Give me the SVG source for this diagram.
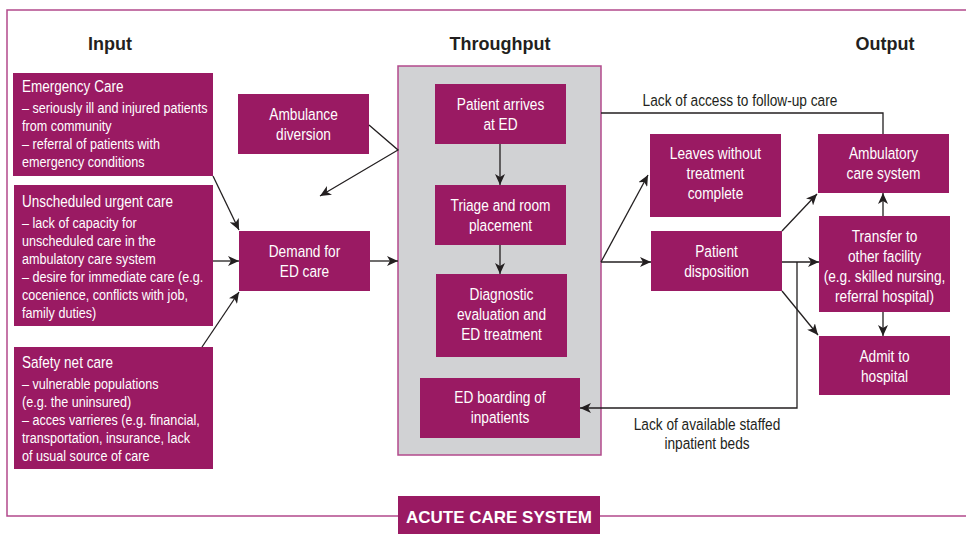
<svg xmlns="http://www.w3.org/2000/svg" width="966" height="534" viewBox="0 0 966 534">
<style>
.box{fill:#9a1a63}
.t{font-family:"Liberation Sans",Arial,sans-serif;fill:#fff;font-size:16.5px}
.c{text-anchor:middle}
.sub{font-size:15px}
.h{font-family:"Liberation Sans",Arial,sans-serif;font-weight:bold;font-size:18px;fill:#231f20;text-anchor:middle}
.lbl{font-family:"Liberation Sans",Arial,sans-serif;font-size:16.5px;fill:#231f20;text-anchor:middle}
.ln{fill:none;stroke:#231f20;stroke-width:1.3}
.ar{marker-end:url(#ah)}
</style>
<defs>
<marker id="ah" markerUnits="userSpaceOnUse" markerWidth="12" markerHeight="10" refX="11" refY="5" orient="auto">
<path d="M0,0 L11,5 L0,10 L3,5 z" fill="#231f20"/>
</marker>
</defs>
<rect width="966" height="534" fill="#fff"/>
<g id="frame">
<path d="M966,10 H7 V516 H966" fill="none" stroke="#b24a8c" stroke-width="1.5"/>
</g>
<g id="headers">
<text class="h" x="110" y="50">Input</text>
<text class="h" x="500" y="50">Throughput</text>
<text class="h" x="885" y="50">Output</text>
</g>
<g id="acute-care-system">
<rect x="398" y="496" width="202" height="38" class="box"/>
<text x="499" y="523" font-family="Liberation Sans,Arial,sans-serif" font-weight="bold" font-size="17" fill="#fff" text-anchor="middle">ACUTE CARE SYSTEM</text>
</g>
<g id="throughput-area">
<rect x="398" y="66" width="203" height="389" fill="#d1d2d4" stroke="#b24a8c" stroke-width="1.5"/>
</g>
<g id="emergency-care">
<rect x="13" y="73" width="200" height="103" class="box"/>
<text class="t" transform="translate(22,92) scale(0.82,1)">Emergency Care</text>
<text class="t sub" transform="translate(22,113) scale(0.84,1)">– seriously ill and injured patients</text>
<text class="t sub" transform="translate(22,131) scale(0.84,1)">from community</text>
<text class="t sub" transform="translate(22,149) scale(0.84,1)">– referral of patients with</text>
<text class="t sub" transform="translate(22,167) scale(0.84,1)">emergency conditions</text>
</g>
<g id="unscheduled-care">
<rect x="14" y="185" width="199" height="141" class="box"/>
<text class="t" transform="translate(22,207) scale(0.82,1)">Unscheduled urgent care</text>
<text class="t sub" transform="translate(22,228) scale(0.84,1)">– lack of capacity for</text>
<text class="t sub" transform="translate(22,246) scale(0.84,1)">unscheduled care in the</text>
<text class="t sub" transform="translate(22,264) scale(0.84,1)">ambulatory care system</text>
<text class="t sub" transform="translate(22,282) scale(0.84,1)">– desire for immediate care (e.g.</text>
<text class="t sub" transform="translate(22,300) scale(0.84,1)">cocenience, conflicts with job,</text>
<text class="t sub" transform="translate(22,318) scale(0.84,1)">family duties)</text>
</g>
<g id="safety-net">
<rect x="14" y="347" width="199" height="122" class="box"/>
<text class="t" transform="translate(22,368) scale(0.82,1)">Safety net care</text>
<text class="t sub" transform="translate(22,389) scale(0.84,1)">– vulnerable populations</text>
<text class="t sub" transform="translate(22,407) scale(0.84,1)">(e.g. the uninsured)</text>
<text class="t sub" transform="translate(22,425) scale(0.84,1)">– acces varrieres (e.g. financial,</text>
<text class="t sub" transform="translate(22,443) scale(0.84,1)">transportation, insurance, lack</text>
<text class="t sub" transform="translate(22,461) scale(0.84,1)">of usual source of care</text>
</g>
<g id="ambulance-diversion">
<rect x="238" y="94" width="131" height="60" class="box"/>
<text class="t c" transform="translate(303.5,120) scale(0.83,1)">Ambulance</text>
<text class="t c" transform="translate(303.5,140) scale(0.83,1)">diversion</text>
</g>
<g id="demand">
<rect x="239" y="231" width="131" height="60" class="box"/>
<text class="t c" transform="translate(304.5,257) scale(0.83,1)">Demand for</text>
<text class="t c" transform="translate(304.5,277) scale(0.83,1)">ED care</text>
</g>
<g id="patient-arrives">
<rect x="435" y="84" width="131" height="60" class="box"/>
<text class="t c" transform="translate(500.5,110) scale(0.83,1)">Patient arrives</text>
<text class="t c" transform="translate(500.5,130) scale(0.83,1)">at ED</text>
</g>
<g id="triage">
<rect x="435" y="185" width="131" height="60" class="box"/>
<text class="t c" transform="translate(500.5,211) scale(0.83,1)">Triage and room</text>
<text class="t c" transform="translate(500.5,231) scale(0.83,1)">placement</text>
</g>
<g id="diagnostic">
<rect x="436" y="274" width="131" height="83" class="box"/>
<text class="t c" transform="translate(501.5,300) scale(0.83,1)">Diagnostic</text>
<text class="t c" transform="translate(501.5,320) scale(0.83,1)">evaluation and</text>
<text class="t c" transform="translate(501.5,340) scale(0.83,1)">ED treatment</text>
</g>
<g id="ed-boarding">
<rect x="420" y="378" width="160" height="60" class="box"/>
<text class="t c" transform="translate(500,403) scale(0.83,1)">ED boarding of</text>
<text class="t c" transform="translate(500,423) scale(0.83,1)">inpatients</text>
</g>
<g id="leaves-without">
<rect x="650" y="134" width="131" height="83" class="box"/>
<text class="t c" transform="translate(715.5,159) scale(0.83,1)">Leaves without</text>
<text class="t c" transform="translate(715.5,179) scale(0.83,1)">treatment</text>
<text class="t c" transform="translate(715.5,199) scale(0.83,1)">complete</text>
</g>
<g id="patient-disposition">
<rect x="651" y="231" width="131" height="60" class="box"/>
<text class="t c" transform="translate(716.5,257) scale(0.83,1)">Patient</text>
<text class="t c" transform="translate(716.5,277) scale(0.83,1)">disposition</text>
</g>
<g id="ambulatory">
<rect x="818" y="134" width="131" height="59" class="box"/>
<text class="t c" transform="translate(883.5,159) scale(0.83,1)">Ambulatory</text>
<text class="t c" transform="translate(883.5,179) scale(0.83,1)">care system</text>
</g>
<g id="transfer">
<rect x="819" y="216" width="131" height="96" class="box"/>
<text class="t c" transform="translate(884.5,242) scale(0.83,1)">Transfer to</text>
<text class="t c" transform="translate(884.5,262) scale(0.83,1)">other facility</text>
<text class="t c" transform="translate(884.5,282) scale(0.83,1)">(e.g. skilled nursing,</text>
<text class="t c" transform="translate(884.5,302) scale(0.83,1)">referral hospital)</text>
</g>
<g id="admit">
<rect x="819" y="336" width="131" height="59" class="box"/>
<text class="t c" transform="translate(884.5,362) scale(0.83,1)">Admit to</text>
<text class="t c" transform="translate(884.5,382) scale(0.83,1)">hospital</text>
</g>
<g id="connectors">
<line class="ln ar" x1="213" y1="176" x2="239" y2="230"/>
<line class="ln ar" x1="213" y1="261" x2="239" y2="261"/>
<line class="ln ar" x1="202" y1="347" x2="239" y2="292"/>
<polyline class="ln ar" points="369,125 398,150 320,196"/>
<line class="ln ar" x1="370" y1="261" x2="398" y2="261"/>
<line class="ln ar" x1="500" y1="144" x2="500" y2="185"/>
<line class="ln ar" x1="500" y1="245" x2="500" y2="274"/>
<line class="ln ar" x1="601" y1="262" x2="651" y2="262"/>
<line class="ln ar" x1="601" y1="262" x2="648" y2="175"/>
<polyline class="ln" points="601,113 883,113 883,134"/>
<line class="ln ar" x1="782" y1="231" x2="817" y2="194"/>
<line class="ln ar" x1="782" y1="262" x2="819" y2="262"/>
<line class="ln ar" x1="782" y1="291" x2="818" y2="335"/>
<line class="ln ar" x1="883" y1="216" x2="883" y2="193"/>
<line class="ln ar" x1="883" y1="312" x2="883" y2="336"/>
<polyline class="ln ar" points="797,262 797,408 580,408"/>
<text class="lbl" transform="translate(740,106) scale(0.83,1)">Lack of access to follow-up care</text>
<text class="lbl" transform="translate(707,430) scale(0.83,1)">Lack of available staffed</text>
<text class="lbl" transform="translate(707,449) scale(0.83,1)">inpatient beds</text>
</g>
</svg>
